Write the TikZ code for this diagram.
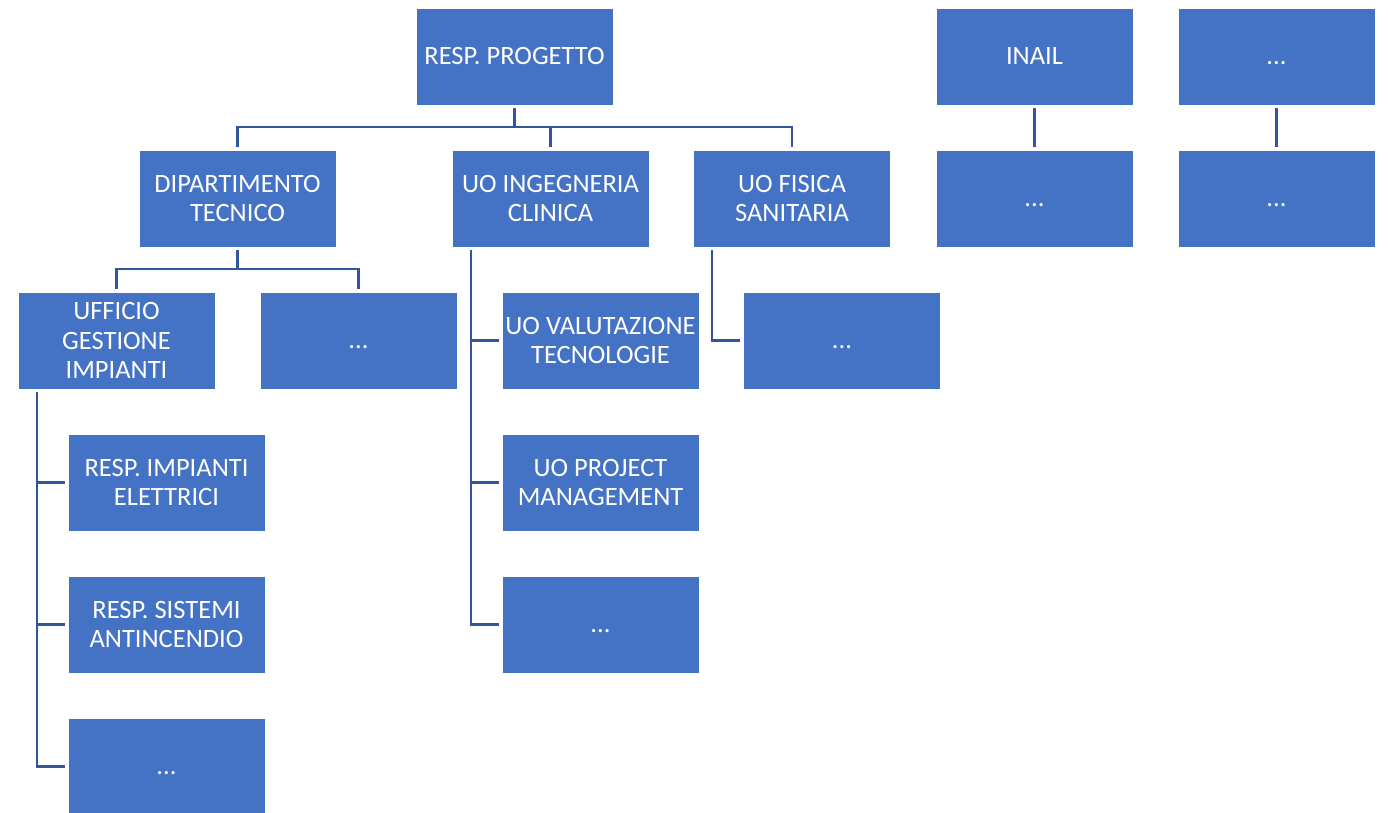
\documentclass[tikz,border=0pt]{standalone}
\usepackage{fontspec}
\setmainfont{Carlito}
\definecolor{boxblue}{RGB}{68,114,196}
\definecolor{linkblue}{RGB}{50,86,156}
\newcommand{\moreunits}{...\vphantom{A}}
\tikzset{
  unit/.style={fill=boxblue, draw=white, line width=0.6pt,
    minimum width=197pt, minimum height=97pt, inner sep=0pt,
    text=white, align=center,
    font=\fontsize{26.5}{29.3}\selectfont},
  conn/.style={draw=linkblue, line width=2.4pt}
}
\begin{document}
\begin{tikzpicture}[x=1pt,y=-1pt]
\clip (0,0) rectangle (1388,813);
\fill[white] (0,0) rectangle (1388,813);

% top level
\node[unit] (rp) at (514.5,56.5) {RESP. PROGETTO};
\node[unit] (inail) at (1034.5,56.5) {INAIL};
\node[unit] (ext) at (1276.5,56.5) {\moreunits};

% second level
\node[unit] (dt) at (237.5,198.5) {DIPARTIMENTO\\TECNICO};
\node[unit] (ic) at (550.5,198.5) {UO INGEGNERIA\\CLINICA};
\node[unit] (fs) at (792,198.5) {UO FISICA\\SANITARIA};
\node[unit] (inailc) at (1034.5,198.5) {\moreunits};
\node[unit] (extc) at (1276.5,198.5) {\moreunits};

% third level
\node[unit] (ugi) at (116.5,340.5) {UFFICIO\\GESTIONE\\IMPIANTI};
\node[unit] (dtx) at (358.5,340.5) {\moreunits};
\node[unit] (uvt) at (600.5,340.5) {UO VALUTAZIONE\\TECNOLOGIE};
\node[unit] (fsx) at (842,340.5) {\moreunits};
\node[unit] (upm) at (600.5,482.5) {UO PROJECT\\MANAGEMENT};
\node[unit] (icx) at (600.5,624.5) {\moreunits};

% fourth level
\node[unit] (rie) at (166.5,482.5) {RESP. IMPIANTI\\ELETTRICI};
\node[unit] (rsa) at (166.5,624.5) {RESP. SISTEMI\\ANTINCENDIO};
\node[unit] (ugix) at (166.5,766.5) {\moreunits};

% bus lines and spines
\coordinate (bus1) at (0,127);
\coordinate (bus2) at (0,269);
\coordinate (spineA) at (37,0);
\coordinate (spineB) at (471,0);
\coordinate (spineC) at (712,0);
\coordinate (ugiTop) at ([yshift=-3pt]ugi.south);
\coordinate (icTop) at ([yshift=-3pt]ic.south);
\coordinate (fsTop) at ([yshift=-3pt]fs.south);

% RESP. PROGETTO to its units
\draw[conn] ([yshift=-3pt]rp.south) -- (rp.south |- bus1);
\draw[conn] ([yshift=3pt]dt.north) |- (bus1 -| fs.north) -- ([yshift=3pt]fs.north);
\draw[conn] ([yshift=3pt]ic.north) -- (ic.north |- bus1);

% DIPARTIMENTO TECNICO
\draw[conn] ([yshift=-3pt]dt.south) -- (dt.south |- bus2);
\draw[conn] ([yshift=3pt]ugi.north) |- (bus2 -| dtx.north) -- ([yshift=3pt]dtx.north);

% UFFICIO GESTIONE IMPIANTI
\draw[conn] (spineA |- ugiTop) |- ([xshift=-3pt]ugix.west);
\draw[conn] ([xshift=-3pt]rie.west) -- (rie.west -| spineA);
\draw[conn] ([xshift=-3pt]rsa.west) -- (rsa.west -| spineA);

% UO INGEGNERIA CLINICA
\draw[conn] (spineB |- icTop) |- ([xshift=-3pt]icx.west);
\draw[conn] ([xshift=-3pt]uvt.west) -- (uvt.west -| spineB);
\draw[conn] ([xshift=-3pt]upm.west) -- (upm.west -| spineB);

% UO FISICA SANITARIA
\draw[conn] (spineC |- fsTop) |- ([xshift=-3pt]fsx.west);

% INAIL and the last column
\draw[conn] ([yshift=-3pt]inail.south) -- ([yshift=3pt]inailc.north);
\draw[conn] ([yshift=-3pt]ext.south) -- ([yshift=3pt]extc.north);
\end{tikzpicture}
\end{document}
